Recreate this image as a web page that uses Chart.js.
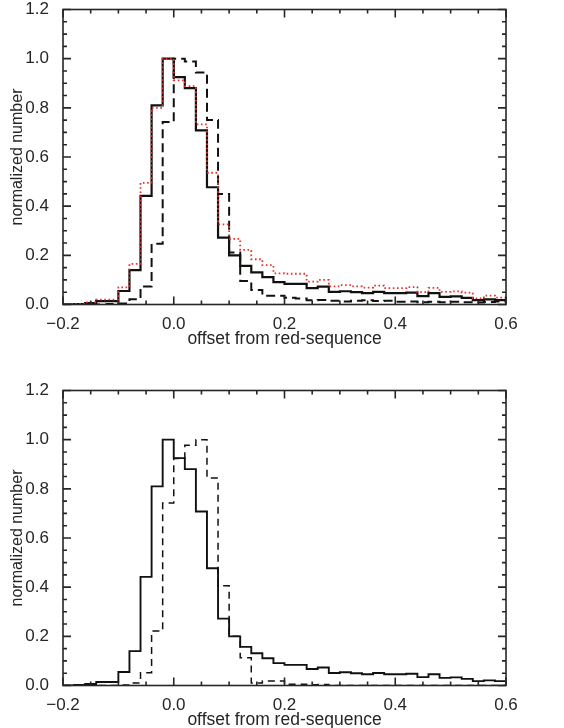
<!DOCTYPE html>
<html>
<head>
<meta charset="utf-8">
<script src="https://cdn.jsdelivr.net/npm/chart.js@4"></script>
<style>
  html, body { margin: 0; padding: 0; background: #fff; overflow: hidden; }
  canvas { position: absolute; left: 0; }
  #panelTop { top: 0; }
  #panelBottom { top: 381px; }
</style>
</head>
<body>
<canvas id="panelTop" width="564" height="381"></canvas>
<canvas id="panelBottom" width="564" height="381"></canvas>
<script>
// histogram bin edges (0.02 wide)
const binEdges = [-0.20, -0.18, -0.16, -0.14, -0.12, -0.10, -0.08, -0.06, -0.04, -0.02,
  0.00, 0.02, 0.04, 0.06, 0.08, 0.10, 0.12, 0.14, 0.16, 0.18,
  0.20, 0.22, 0.24, 0.26, 0.28, 0.30, 0.32, 0.34, 0.36, 0.38,
  0.40, 0.42, 0.44, 0.46, 0.48, 0.50, 0.52, 0.54, 0.56, 0.58, 0.60];

// full sample, solid line in both panels
const solidCounts = [0, 0.002, 0.006, 0.014, 0.014, 0.055, 0.14, 0.442, 0.81, 1.0,
  0.925, 0.88, 0.708, 0.477, 0.272, 0.2, 0.157, 0.131, 0.111, 0.091,
  0.084, 0.084, 0.067, 0.073, 0.051, 0.054, 0.05, 0.046, 0.051, 0.046,
  0.046, 0.048, 0.034, 0.046, 0.031, 0.033, 0.027, 0.018, 0.021, 0.018];

// red dotted, top panel
const dottedCounts = [0, 0.002, 0.009, 0.02, 0.02, 0.07, 0.165, 0.495, 0.80, 1.0,
  0.912, 0.888, 0.733, 0.536, 0.326, 0.267, 0.222, 0.184, 0.16, 0.127,
  0.125, 0.125, 0.093, 0.10, 0.074, 0.079, 0.074, 0.069, 0.077, 0.067,
  0.067, 0.071, 0.05, 0.068, 0.051, 0.053, 0.048, 0.025, 0.036, 0.028];

// dashed, top panel
const dashedTopCounts = [0, 0, 0, 0, 0.002, 0.004, 0.021, 0.073, 0.247, 0.742,
  1.0, 0.988, 0.944, 0.751, 0.45, 0.212, 0.096, 0.059, 0.036, 0.036,
  0.027, 0.024, 0.017, 0.018, 0.015, 0.012, 0.015, 0.017, 0.014, 0.015,
  0.011, 0.012, 0.009, 0.011, 0.009, 0.011, 0.009, 0.008, 0.01, 0.012];

// dashed, bottom panel
const dashedBottomCounts = [0, 0, 0, 0, 0, 0.002, 0.01, 0.052, 0.222, 0.742,
  0.923, 0.977, 1.0, 0.844, 0.406, 0.2, 0.113, 0.01, 0.018, 0.018,
  0.005, 0.005, 0.003, 0.004, 0, 0, 0, 0, 0, 0,
  0, 0, 0, 0, 0, 0, 0, 0, 0, 0];

const xTicks = [-0.2, 0.0, 0.2, 0.4, 0.6];
const yTicks = [0.0, 0.2, 0.4, 0.6, 0.8, 1.0, 1.2];

const FONT = 'Liberation Sans';
const INK = '#262626';

// step points: one per left edge, plus the closing right edge
function steps(counts) {
  const pts = counts.map((c, i) => ({ x: binEdges[i], y: c }));
  pts.push({ x: binEdges[binEdges.length - 1], y: counts[counts.length - 1] });
  return pts;
}

function fmt(v) {
  if (Math.abs(v) < 1e-9) return '0.0';
  return v.toFixed(1).replace('-', '\u2212');
}

// box frame with inward major/minor ticks on all four sides
const frameTicks = {
  id: 'frameTicks',
  afterDatasetsDraw(chart) {
    const { ctx, chartArea: a, scales: { x, y } } = chart;
    ctx.save();
    ctx.strokeStyle = INK;
    ctx.lineWidth = 1.6;
    ctx.strokeRect(a.left, a.top, a.right - a.left, a.bottom - a.top);
    ctx.beginPath();
    for (let i = 0; i <= 16; i++) {
      const px = x.getPixelForValue(x.min + i * 0.05);
      const len = i % 4 === 0 ? 8 : 4;
      ctx.moveTo(px, a.bottom); ctx.lineTo(px, a.bottom - len);
      ctx.moveTo(px, a.top); ctx.lineTo(px, a.top + len);
    }
    for (let i = 0; i <= 24; i++) {
      const py = y.getPixelForValue(y.min + i * 0.05);
      const len = i % 4 === 0 ? 8 : 4;
      ctx.moveTo(a.left, py); ctx.lineTo(a.left + len, py);
      ctx.moveTo(a.right, py); ctx.lineTo(a.right - len, py);
    }
    ctx.stroke();
    ctx.restore();
  }
};

function makePanel(id, datasets) {
  return new Chart(document.getElementById(id), {
    type: 'line',
    data: { datasets },
    plugins: [frameTicks],
    options: {
      responsive: false,
      animation: false,
      events: [],
      layout: { padding: { left: 0, right: 58, top: 9.5, bottom: 0 } },
      elements: { point: { radius: 0 }, line: { tension: 0 } },
      plugins: { legend: { display: false }, tooltip: { enabled: false } },
      scales: {
        x: {
          type: 'linear', min: -0.2, max: 0.6,
          grid: { display: false }, border: { display: false },
          afterBuildTicks: s => { s.ticks = xTicks.map(v => ({ value: v })); },
          afterFit: s => { s.height = 76.5; s.paddingLeft = 0; s.paddingRight = 0; },
          ticks: {
            padding: 2, maxRotation: 0, autoSkip: false, color: INK,
            font: { family: FONT, size: 17, lineHeight: 1.2 },
            callback: v => fmt(v)
          },
          title: {
            display: true, text: 'offset from red-sequence', color: INK,
            font: { family: FONT, size: 17.5, lineHeight: 1 },
            padding: { top: 0, bottom: 33 }
          }
        },
        y: {
          type: 'linear', min: 0, max: 1.2,
          grid: { display: false }, border: { display: false },
          afterBuildTicks: s => { s.ticks = yTicks.map(v => ({ value: v })); },
          afterFit: s => { s.width = 63; s.paddingTop = 0; s.paddingBottom = 0; },
          ticks: {
            padding: 6, color: INK,
            font: { family: FONT, size: 17, lineHeight: 1.2 },
            callback: v => fmt(v)
          },
          title: {
            display: true, text: 'normalized number', color: INK,
            font: { family: FONT, size: 16, lineHeight: 1 },
            padding: { top: 10, bottom: 0 }
          }
        }
      }
    }
  });
}

makePanel('panelTop', [
  { data: steps(dottedCounts), stepped: 'before', borderColor: '#e8302c',
    borderWidth: 1.8, borderDash: [1.6, 2.6], fill: false },
  { data: steps(solidCounts), stepped: 'before', borderColor: '#111',
    borderWidth: 2.2, fill: false },
  { data: steps(dashedTopCounts), stepped: 'before', borderColor: '#111',
    borderWidth: 2, borderDash: [9, 5], fill: false }
]);

makePanel('panelBottom', [
  { data: steps(solidCounts), stepped: 'before', borderColor: '#111',
    borderWidth: 1.9, fill: false },
  { data: steps(dashedBottomCounts), stepped: 'before', borderColor: '#111',
    borderWidth: 1.5, borderDash: [7, 5], fill: false }
]);
</script>
</body>
</html>
